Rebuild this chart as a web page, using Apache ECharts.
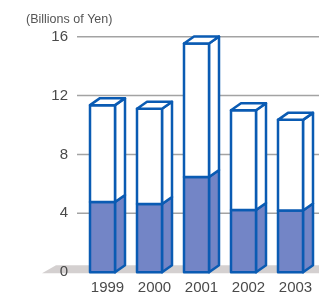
<!DOCTYPE html>
<html><head><meta charset="utf-8">
<script src="https://cdn.jsdelivr.net/npm/echarts@6/dist/echarts.min.js"></script>
<style>html,body{margin:0;padding:0;background:#fff}#c{width:319px;height:292px}</style>
</head><body><div id="c"></div>
<script>
const categories = ['1999', '2000', '2001', '2002', '2003'];
const lowerValues = [4.77, 4.63, 6.47, 4.23, 4.19];
const upperValues = [6.58, 6.47, 9.07, 6.77, 6.16];
const yTicks = [0, 4, 8, 12, 16];
const unitLabel = '(Billions of Yen)';

const BAR_W = 25, DX = 10, DY = 7;
const EDGE = '#0a5bb3', FILL = '#7385c6';
const FONT = 'Liberation Sans, Arial, sans-serif';

function barItem(fill, drawTop) {
  return function (params, api) {
    const i = api.value(0);
    const lo = api.value(1), hi = api.value(2);
    const pLo = api.coord([i, lo]);
    const pHi = api.coord([i, hi]);
    const xl = pLo[0] - (BAR_W + DX) / 2;
    const xr = xl + BAR_W;
    const yb = pLo[1], yt = pHi[1];
    const style = { fill: fill, stroke: EDGE, lineWidth: 2.5, lineJoin: 'round' };
    const children = [
      { type: 'polygon', shape: { points: [[xr, yb], [xr + DX, yb - DY], [xr + DX, yt - DY], [xr, yt]] }, style: style },
      { type: 'rect', shape: { x: xl, y: yt, width: BAR_W, height: yb - yt }, style: style }
    ];
    if (drawTop) {
      children.push({ type: 'polygon', shape: { points: [[xl, yt], [xr, yt], [xr + DX, yt - DY], [xl + DX, yt - DY]] }, style: style });
    }
    return { type: 'group', children: children };
  };
}

function backgroundItem(params, api) {
  const cs = params.coordSys;
  const y0 = api.coord([0, 0])[1];
  const right = cs.x + cs.width;
  const children = [{
    type: 'polygon',
    shape: { points: [[cs.x - 42, y0 + 1], [cs.x - 28, y0 - DY], [right, y0 - DY], [right, y0 + 1]] },
    style: { fill: '#d4d0d0' }
  }];
  yTicks.forEach(function (v) {
    if (v === 0) return;
    const y = api.coord([0, v])[1];
    children.push({ type: 'line', shape: { x1: cs.x - 7, y1: y, x2: right, y2: y }, style: { stroke: '#a3a3a3', lineWidth: 1.5 } });
  });
  return { type: 'group', children: children };
}

const lowerData = categories.map(function (c, i) { return [i, 0, lowerValues[i]]; });
const upperData = categories.map(function (c, i) { return [i, lowerValues[i], lowerValues[i] + upperValues[i]]; });

const chart = echarts.init(document.getElementById('c'), null, { renderer: 'canvas' });
chart.setOption({
  animation: false,
  title: { text: unitLabel, left: 21, top: 8, textStyle: { fontSize: 12.5, fontWeight: 'normal', color: '#555', fontFamily: FONT } },
  grid: { left: 84, right: 0, top: 36.7, bottom: 19.8, containLabel: false, outerBoundsMode: 'none' },
  xAxis: {
    type: 'category', data: categories, z: 10,
    axisLine: { show: false }, axisTick: { show: false },
    axisLabel: { margin: 8, fontSize: 15, color: '#4a4a4a', fontFamily: FONT }
  },
  yAxis: {
    type: 'value', min: yTicks[0], max: yTicks[yTicks.length - 1], interval: 4, z: 10,
    splitLine: { show: false }, axisLine: { show: false }, axisTick: { show: false },
    axisLabel: { margin: 16, fontSize: 15, color: '#4a4a4a', fontFamily: FONT }
  },
  series: [
    { type: 'custom', renderItem: backgroundItem, data: [[0, 0, 0]], z: 1, silent: true },
    { type: 'custom', renderItem: barItem(FILL, false), data: lowerData, z: 2, encode: { x: 0, y: [1, 2] } },
    { type: 'custom', renderItem: barItem('#ffffff', true), data: upperData, z: 3, encode: { x: 0, y: [1, 2] } }
  ]
});
</script>
</body></html>
